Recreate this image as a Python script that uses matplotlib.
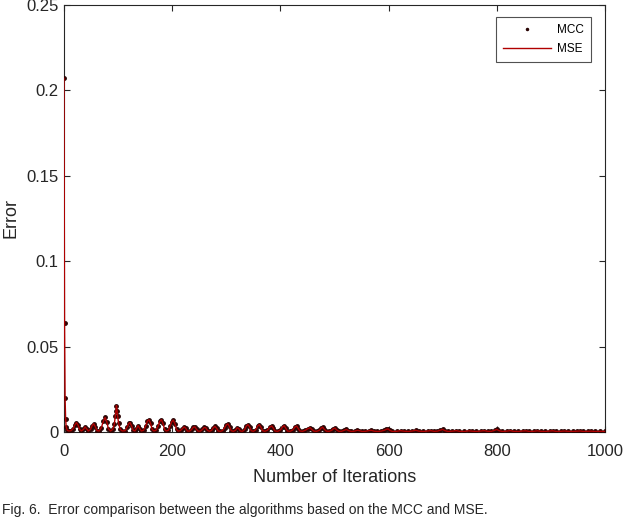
import matplotlib
matplotlib.use("Agg")
import matplotlib.pyplot as plt

plt.rcParams['font.family'] = ['Liberation Sans', 'DejaVu Sans']

iterations = [0, 1, 2, 3, 4, 6, 9, 13, 17, 20, 23, 26, 29, 32, 36, 39, 42, 45, 49, 52, 55, 58, 61, 65,
              69, 73, 76, 79, 82, 86, 90, 93, 95, 96, 97, 98, 99, 101, 104, 108, 113, 117, 120, 122,
              125, 128, 131, 134, 137, 140, 143, 147, 151, 154, 157, 160, 163, 166, 170, 174, 177, 180,
              183, 186, 189, 193, 196, 199, 202, 205, 208, 211, 215, 219, 222, 225, 228, 232, 236, 239,
              242, 245, 248, 252, 256, 259, 262, 265, 269, 273, 276, 279, 282, 285, 289, 293, 297, 300,
              303, 306, 309, 313, 317, 320, 323, 326, 330, 334, 337, 340, 343, 346, 350, 354, 358, 361,
              364, 367, 371, 376, 380, 384, 387, 390, 395, 400, 404, 407, 410, 413, 418, 423, 427, 430,
              433, 436, 441, 446, 451, 455, 458, 462, 467, 472, 475, 478, 481, 485, 490, 495, 498, 501,
              504, 508, 513, 518, 522, 526, 531, 537, 542, 546, 551, 557, 563, 568, 573, 579, 586, 592,
              596, 599, 602, 607, 615, 622, 628, 636, 644, 650, 656, 664, 672, 678, 684, 690, 695, 700,
              704, 710, 718, 725, 731, 740, 748, 754, 762, 770, 777, 783, 790, 796, 800, 804, 810, 818,
              825, 831, 840, 848, 854, 860, 868, 875, 881, 890, 898, 904, 910, 918, 925, 931, 940, 948,
              954, 960, 968, 975, 981, 990, 1000]

mse_error = [0.207, 0.0636, 0.0200, 0.0076, 0.0030, 0.0010, 0.0006, 0.0008, 0.0020, 0.0042, 0.0055, 0.0040,
             0.0015, 0.0006, 0.0015, 0.0030, 0.0018, 0.0006, 0.0015, 0.0038, 0.0048, 0.0030, 0.0008, 0.0006,
             0.0025, 0.0065, 0.0085, 0.0060, 0.0020, 0.0006, 0.0015, 0.0045, 0.0095, 0.0125, 0.0155, 0.0125,
             0.0095, 0.0050, 0.0015, 0.0006, 0.0008, 0.0030, 0.0050, 0.0055,
             0.0035, 0.0010, 0.0006, 0.0020, 0.0038, 0.0020, 0.0006, 0.0010, 0.0035, 0.0062, 0.0072, 0.0050,
             0.0015, 0.0006, 0.0010, 0.0035, 0.0062, 0.0072,
             0.0050, 0.0015, 0.0006, 0.0010, 0.0035, 0.0060, 0.0070, 0.0048, 0.0015, 0.0005, 0.0008, 0.0020,
             0.0030, 0.0022, 0.0006, 0.0005, 0.0015, 0.0028,
             0.0030, 0.0015, 0.0005, 0.0005, 0.0015, 0.0027, 0.0025, 0.0010, 0.0004, 0.0010, 0.0025, 0.0033,
             0.0022, 0.0006, 0.0004, 0.0008, 0.0025, 0.0042,
             0.0047, 0.0030, 0.0008, 0.0004, 0.0010, 0.0025, 0.0020, 0.0006, 0.0004, 0.0015, 0.0035, 0.0043,
             0.0030, 0.0008, 0.0004, 0.0012, 0.0035, 0.0043,
             0.0028, 0.0008, 0.0004, 0.0010, 0.0028, 0.0035, 0.0022, 0.0006, 0.0004, 0.0012, 0.0030, 0.0037,
             0.0022, 0.0006, 0.0004, 0.0012, 0.0030, 0.0035,
             0.0020, 0.0006, 0.0004, 0.0010, 0.0020, 0.0025, 0.0015, 0.0005, 0.0004, 0.0010, 0.0022, 0.0028,
             0.0016, 0.0005, 0.0004, 0.0010, 0.0020, 0.0023,
             0.0012, 0.0004, 0.0004, 0.0010, 0.0015, 0.0008, 0.0003, 0.0005, 0.0010, 0.0008, 0.0003, 0.0004,
             0.0008, 0.0010, 0.0005, 0.0003, 0.0005, 0.0010,
             0.0016, 0.0018, 0.0010, 0.0003, 0.0004, 0.0008, 0.0005, 0.0003, 0.0006, 0.0010, 0.0005, 0.0003,
             0.0006, 0.0008, 0.0004, 0.0005, 0.0010, 0.0015,
             0.0008, 0.0003, 0.0005, 0.0008, 0.0004, 0.0003, 0.0007, 0.0005, 0.0003, 0.0006, 0.0008, 0.0004,
             0.0004, 0.0010, 0.0015, 0.0008, 0.0003, 0.0005,
             0.0008, 0.0004, 0.0003, 0.0006, 0.0007, 0.0003, 0.0004, 0.0007, 0.0004, 0.0003, 0.0006, 0.0007,
             0.0003, 0.0004, 0.0006, 0.0004, 0.0003, 0.0005,
             0.0006, 0.0003, 0.0004, 0.0005, 0.0003, 0.0004, 0.0003]

mcc_error = mse_error

x_ticks = [0, 200, 400, 600, 800, 1000]
y_ticks = [0, 0.05, 0.1, 0.15, 0.2, 0.25]
y_tick_labels = ['0', '0.05', '0.1', '0.15', '0.2', '0.25']

fig = plt.figure(figsize=(6.24, 5.18), dpi=100)
ax = fig.add_axes([64 / 624, 86 / 518, 541 / 624, 427 / 518])

ax.plot(iterations, mcc_error, linestyle='none', marker='.', markersize=5,
        color='#2a0505', label='MCC', zorder=3)
ax.plot(iterations, mse_error, color='#b00000', linewidth=1.0, label='MSE', zorder=4)

ax.set_xlim(0, 1000)
ax.set_ylim(0, 0.25)
ax.set_xticks(x_ticks)
ax.set_yticks(y_ticks)
ax.set_yticklabels(y_tick_labels)
ax.tick_params(direction='in', length=4, width=0.8, top=True, right=True,
               labelsize=12, colors='#262626', labelcolor='#262626')
ax.tick_params(axis='x', pad=9)
ax.tick_params(axis='y', pad=4)
for s in ax.spines.values():
    s.set_linewidth(0.8)
    s.set_color('#262626')

ax.set_xlabel('Number of Iterations', fontsize=13, color='#262626', labelpad=7)
ax.set_ylabel('Error', fontsize=13, color='#262626', labelpad=5)

leg = ax.legend(loc='upper right', bbox_to_anchor=(0.974, 0.972), fontsize=8.5,
                frameon=True, fancybox=False, borderaxespad=0.0, handlelength=4.1,
                handletextpad=0.5, borderpad=0.6, labelspacing=0.6, markerscale=0.6)
leg.get_frame().set_edgecolor('#262626')
leg.get_frame().set_linewidth(0.8)

fig.text(2 / 624, 1 - 514 / 518,
         'Fig. 6.  Error comparison between the algorithms based on the MCC and MSE.',
         fontsize=10, color='#262626', va='baseline', ha='left')

fig.savefig('out.png', dpi=100)
